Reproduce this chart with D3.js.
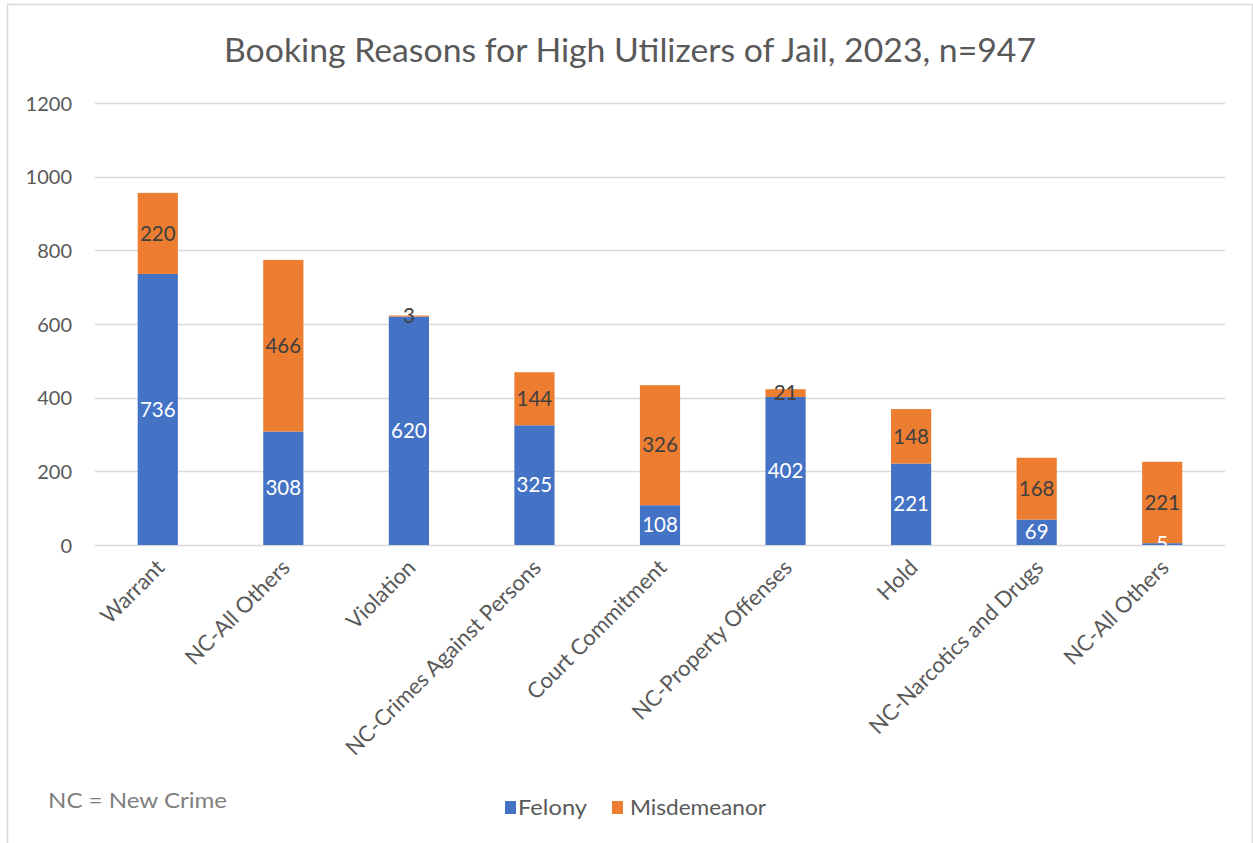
<!DOCTYPE html>
<html>
<head>
<meta charset="utf-8">
<script src="https://cdn.jsdelivr.net/npm/d3@7"></script>
<style>
  html, body { margin: 0; padding: 0; background: #fff; }
  svg { display: block; }
</style>
</head>
<body>
<svg id="chart" width="1253" height="843"></svg>
<script>
// Booking reasons and counts by offense level
const categories = [
  "Warrant", "NC-All Others", "Violation", "NC-Crimes Against Persons",
  "Court Commitment", "NC-Property Offenses", "Hold",
  "NC-Narcotics and Drugs", "NC-All Others"
];
const felony      = [736, 308, 620, 325, 108, 402, 221, 69, 5];
const misdemeanor = [220, 466, 3, 144, 326, 21, 148, 168, 221];
const seriesNames = ["Felony", "Misdemeanor"];
const seriesColors = ["#4472c4", "#ed7d31"];
const yTicks = [0, 200, 400, 600, 800, 1000, 1200];

const font = "Lato, 'Open Sans', sans-serif";
const svg = d3.select("#chart");
const W = 1253, H = 843;

// Outer chart border
svg.append("rect")
  .attr("x", 7.5).attr("y", 4.5)
  .attr("width", W - 8).attr("height", H)
  .attr("fill", "#fff").attr("stroke", "#d9d9d9").attr("stroke-width", 1.5);

const plot = { left: 95, right: 1225, top: 103, bottom: 545 };

// Value labels are clipped to the plot area
svg.append("defs").append("clipPath").attr("id", "plot-clip")
  .append("rect")
  .attr("x", plot.left).attr("y", 0)
  .attr("width", plot.right - plot.left).attr("height", plot.bottom);

const rows = categories.map((c, i) => ({ key: i, label: c, Felony: felony[i], Misdemeanor: misdemeanor[i] }));

const x = d3.scaleBand()
  .domain(rows.map(d => d.key))
  .range([plot.left, plot.right])
  .paddingInner(0.68).paddingOuter(0.34);

const y = d3.scaleLinear().domain([0, 1200]).range([plot.bottom, plot.top]);

// Title
svg.append("text")
  .attr("x", 630).attr("y", 62)
  .attr("text-anchor", "middle")
  .attr("font-family", font).attr("font-size", 32)
  .attr("textLength", 812).attr("lengthAdjust", "spacingAndGlyphs")
  .attr("fill", "#595959")
  .text("Booking Reasons for High Utilizers of Jail, 2023, n=947");

// Gridlines
svg.append("g")
  .selectAll("line")
  .data(yTicks)
  .join("line")
  .attr("x1", plot.left).attr("x2", plot.right)
  .attr("y1", d => Math.round(y(d)) + 0.5).attr("y2", d => Math.round(y(d)) + 0.5)
  .attr("stroke", "#d9d9d9").attr("stroke-width", 1.5);

// Y axis labels
const yAxis = d3.axisLeft(y).tickValues(yTicks).tickFormat(d3.format("d")).tickSize(0).tickPadding(0);
const yg = svg.append("g").attr("transform", `translate(72,0)`).call(yAxis);
yg.select(".domain").remove();
yg.selectAll("text")
  .attr("font-family", font).attr("font-size", 20)
  .attr("fill", "#595959").attr("dy", "0.35em");

// Stacked bars
const stack = d3.stack().keys(seriesNames);
const stacked = stack(rows);

const layers = svg.append("g").selectAll("g")
  .data(stacked)
  .join("g")
  .attr("fill", (d, i) => seriesColors[i]);

layers.selectAll("rect")
  .data(d => d.map(p => ({ p, key: p.data.key })))
  .join("rect")
  .attr("x", d => x(d.key))
  .attr("width", x.bandwidth())
  .attr("y", d => y(d.p[1]))
  .attr("height", d => y(d.p[0]) - y(d.p[1]));

// Value labels centered in each segment
const labelColors = ["#ffffff", "#404040"];
const labelLayer = svg.append("g").attr("clip-path", "url(#plot-clip)");
stacked.forEach((layer, si) => {
  labelLayer.append("g").selectAll("text")
    .data(layer)
    .join("text")
    .attr("x", d => x(d.data.key) + x.bandwidth() / 2)
    .attr("y", d => (y(d[0]) + y(d[1])) / 2)
    .attr("dy", "0.35em")
    .attr("text-anchor", "middle")
    .attr("font-family", font).attr("font-size", 20.5)
    .attr("fill", labelColors[si])
    .text(d => d.data[seriesNames[si]]);
});

// X axis category labels, rotated
const xg = svg.append("g");
xg.selectAll("text")
  .data(rows)
  .join("text")
  .attr("transform", d => `translate(${x(d.key) + x.bandwidth() / 2 + 8},${plot.bottom + 24}) rotate(-45)`)
  .attr("text-anchor", "end")
  .attr("font-family", font).attr("font-size", 22)
  .attr("fill", "#595959")
  .text(d => d.label);

// Footnote
svg.append("text")
  .attr("x", 48).attr("y", 808)
  .attr("font-family", font).attr("font-size", 22)
  .attr("textLength", 179).attr("lengthAdjust", "spacingAndGlyphs")
  .attr("fill", "#7f7f7f")
  .text("NC = New Crime");

// Legend
const legendItems = [
  { name: seriesNames[0], color: seriesColors[0], x: 505, tx: 518, w: 69 },
  { name: seriesNames[1], color: seriesColors[1], x: 612, tx: 630, w: 136 }
];
const lg = svg.append("g");
lg.selectAll("rect")
  .data(legendItems)
  .join("rect")
  .attr("x", d => d.x).attr("y", 801)
  .attr("width", 11).attr("height", 13)
  .attr("fill", d => d.color);
lg.selectAll("text")
  .data(legendItems)
  .join("text")
  .attr("x", d => d.tx).attr("y", 815)
  .attr("font-family", font).attr("font-size", 22)
  .attr("textLength", d => d.w).attr("lengthAdjust", "spacingAndGlyphs")
  .attr("fill", "#595959")
  .text(d => d.name);
</script>
</body>
</html>
